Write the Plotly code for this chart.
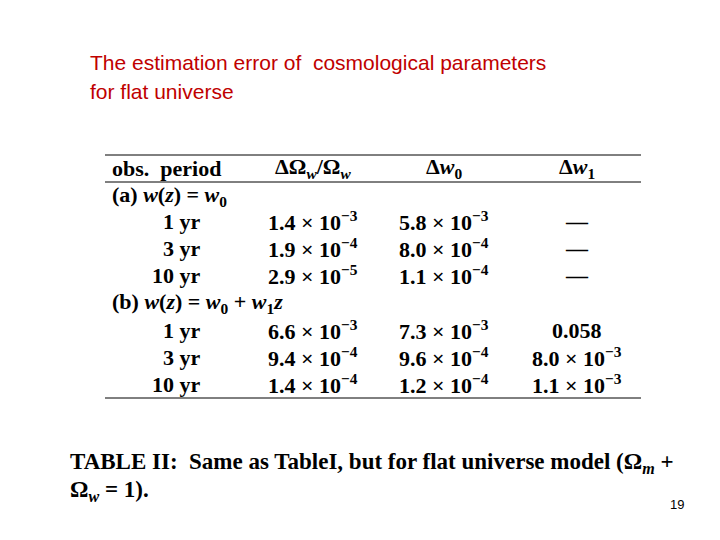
import plotly.graph_objects as go

title_lines = ["The estimation error of  cosmological parameters", "for flat universe"]
headers = ["obs.  period", "ΔΩ<sub><i>w</i></sub>/Ω<sub><i>w</i></sub>", "Δ<i>w</i><sub>0</sub>", "Δ<i>w</i><sub>1</sub>"]
section_a = "(a) <i>w</i>(<i>z</i>) = <i>w</i><sub>0</sub>"
section_b = "(b) <i>w</i>(<i>z</i>) = <i>w</i><sub>0</sub> + <i>w</i><sub>1</sub><i>z</i>"
periods = ["1 yr", "3 yr", "10 yr"]
omega_a = ["1.4 × 10<sup>−3</sup>", "1.9 × 10<sup>−4</sup>", "2.9 × 10<sup>−5</sup>"]
w0_a = ["5.8 × 10<sup>−3</sup>", "8.0 × 10<sup>−4</sup>", "1.1 × 10<sup>−4</sup>"]
w1_a = ["—", "—", "—"]
omega_b = ["6.6 × 10<sup>−3</sup>", "9.4 × 10<sup>−4</sup>", "1.4 × 10<sup>−4</sup>"]
w0_b = ["7.3 × 10<sup>−3</sup>", "9.6 × 10<sup>−4</sup>", "1.2 × 10<sup>−4</sup>"]
w1_b = ["0.058", "8.0 × 10<sup>−3</sup>", "1.1 × 10<sup>−3</sup>"]
caption = ["TABLE II:  Same as TableI, but for flat universe model (Ω<sub><i>m</i></sub> +",
           "Ω<sub><i>w</i></sub> = 1)."]
page_no = "19"

serif = "Liberation Serif"
fig = go.Figure()
ann = []

# page body has an 8px margin, so shift everything back by it
OFF = 8

def txt(x, y, t, anchor="left", size=22, font=serif, color="black", bold=True):
    if bold:
        t = "<b>" + t + "</b>"
    ann.append(dict(x=x - OFF, y=y - OFF, text=t, xanchor=anchor, yanchor="middle", showarrow=False,
                    font=dict(family=font, size=size, color=color)))

for i, line in enumerate(title_lines):
    txt(88, 62 + i * 29, line, size=21, font="Liberation Sans", color="#c00000", bold=False)

col_x = [110, 313, 444, 577]
txt(col_x[0], 168, headers[0])
for j in range(1, 4):
    txt(col_x[j], 168, headers[j], anchor="center")

row_y_a = [221, 248, 275]
row_y_b = [330, 357, 384]
txt(110, 196, section_a)
txt(110, 303, section_b)
for ys, om, w0, w1 in [(row_y_a, omega_a, w0_a, w1_a), (row_y_b, omega_b, w0_b, w1_b)]:
    for k, y in enumerate(ys):
        txt(203, y, periods[k], anchor="right")
        txt(col_x[1], y, om[k], anchor="center")
        txt(col_x[2], y, w0[k], anchor="center")
        txt(col_x[3], y, w1[k], anchor="center")

for i, line in enumerate(caption):
    txt(68, 463 + i * 28, line, size=23)
txt(668, 504, page_no, size=13, font="Liberation Sans", bold=False)

shapes = [dict(type="line", x0=105 - OFF, x1=641 - OFF, y0=y - OFF, y1=y - OFF,
               line=dict(color="black", width=1))
          for y in (155, 182, 398)]

fig.update_layout(width=720, height=540, margin=dict(l=0, r=0, t=0, b=0),
                  paper_bgcolor="white", plot_bgcolor="white",
                  xaxis=dict(range=[0, 720], visible=False, fixedrange=True),
                  yaxis=dict(range=[540, 0], visible=False, fixedrange=True),
                  annotations=ann, shapes=shapes, showlegend=False)
fig.write_html("out.html")
